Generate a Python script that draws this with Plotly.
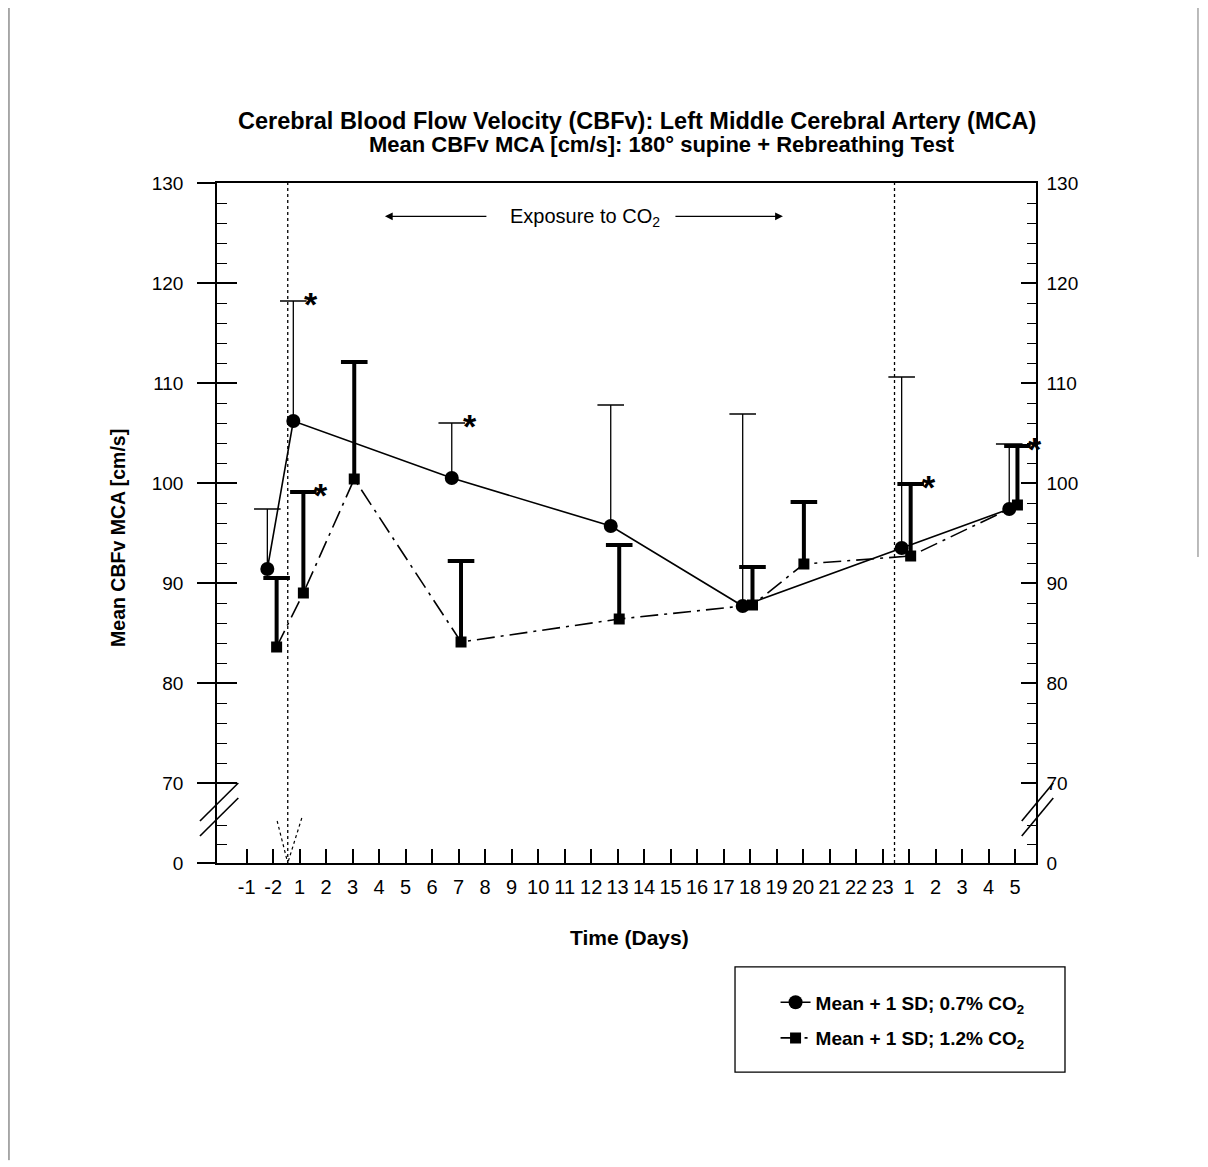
import plotly.graph_objects as go

# ---------------- data ----------------
x_labels = ["-1", "-2", "1", "2", "3", "4", "5", "6", "7", "8", "9", "10", "11", "12",
            "13", "14", "15", "16", "17", "18", "19", "20", "21", "22", "23",
            "1", "2", "3", "4", "5"]
x_tick_pos = list(range(len(x_labels)))

# 0.7% CO2 (circles): position on the day axis, mean, +1 SD
circ_x = [0.78, 1.76, 7.74, 13.74, 18.72, 24.72, 28.78]
circ_mean = [91.4, 106.2, 100.5, 95.7, 87.7, 93.5, 97.4]
circ_sd = [6.0, 12.0, 5.5, 12.1, 19.2, 17.1, 6.5]
circ_star = [False, True, True, False, False, False, False]

# 1.2% CO2 (squares)
sq_x = [1.13, 2.14, 4.06, 8.09, 14.06, 19.09, 21.03, 25.06, 29.09]
sq_mean = [83.6, 89.0, 100.4, 84.1, 86.4, 87.8, 91.9, 92.7, 97.8]
sq_sd = [6.9, 10.1, 11.7, 8.1, 7.4, 3.8, 6.2, 7.2, 5.9]
sq_star = [False, True, False, False, False, False, False, True, True]

# broken y axis: bottom value stands for "0"
y_tick_vals = [62, 70, 80, 90, 100, 110, 120, 130]
y_tick_text = ["0", "70", "80", "90", "100", "110", "120", "130"]
y_minor_vals = [63.9, 65.8, 72, 74, 76, 78, 82, 84, 86, 88, 92, 94, 96, 98,
                102, 104, 106, 108, 112, 114, 116, 118, 122, 124, 126, 128]

period_marks = [1.55, 24.45]

FONT = "Liberation Sans, Arial, sans-serif"

circ_top = [m + s for m, s in zip(circ_mean, circ_sd)]
sq_top = [m + s for m, s in zip(sq_mean, sq_sd)]

fig = go.Figure()

fig.add_trace(go.Scatter(
    x=circ_x, y=circ_mean, mode="lines+markers",
    name="<b>Mean + 1 SD; 0.7% CO<sub>2</sub></b>", legendgroup="a",
    line=dict(color="black", width=1.6),
    marker=dict(symbol="circle", size=14, color="black"),
    error_y=dict(type="data", symmetric=False, array=circ_sd,
                 arrayminus=[0] * len(circ_sd), width=0, thickness=1.3, color="black"),
    hoverinfo="skip"))
fig.add_trace(go.Scatter(
    x=circ_x, y=circ_top, mode="markers", showlegend=False, hoverinfo="skip",
    marker=dict(symbol="line-ew", size=19, color="black", line=dict(width=1.5, color="black"))))

fig.add_trace(go.Scatter(
    x=sq_x, y=sq_mean, mode="lines+markers",
    name="<b>Mean + 1 SD; 1.2% CO<sub>2</sub></b>", legendgroup="b",
    line=dict(color="black", width=1.6, dash="18px,6px,3px,6px"),
    marker=dict(symbol="square", size=11, color="black"),
    error_y=dict(type="data", symmetric=False, array=sq_sd,
                 arrayminus=[0] * len(sq_sd), width=0, thickness=4, color="black"),
    hoverinfo="skip"))
fig.add_trace(go.Scatter(
    x=sq_x, y=sq_top, mode="markers", showlegend=False, hoverinfo="skip",
    marker=dict(symbol="line-ew", size=19, color="black", line=dict(width=4, color="black"))))

# dummy traces to bind the overlay axes
fig.add_trace(go.Scatter(x=circ_x[:1], y=circ_mean[:1], yaxis="y2", mode="markers",
                         marker=dict(opacity=0), showlegend=False, hoverinfo="skip"))
fig.add_trace(go.Scatter(x=circ_x[:1], y=circ_mean[:1], yaxis="y3", mode="markers",
                         marker=dict(opacity=0), showlegend=False, hoverinfo="skip"))

annotations = []
for xs, tops, stars in ((circ_x, circ_top, circ_star), (sq_x, sq_top, sq_star)):
    for xv, tv, st in zip(xs, tops, stars):
        if st:
            annotations.append(dict(x=xv, y=tv, xref="x", yref="y", text="<b>*</b>",
                                    showarrow=False, xshift=18, yshift=-3,
                                    xanchor="center", yanchor="middle",
                                    font=dict(family=FONT, size=34, color="black")))

# titles and labels
annotations += [
    dict(x=0.5134, y=1.091, xref="paper", yref="paper",
         text="<b>Cerebral Blood Flow Velocity (CBFv): Left Middle Cerebral Artery (MCA)</b>",
         showarrow=False, xanchor="center", yanchor="middle",
         font=dict(family=FONT, size=23.5, color="black")),
    dict(x=0.5439, y=1.056, xref="paper", yref="paper",
         text="<b>Mean CBFv MCA [cm/s]: 180° supine + Rebreathing Test</b>",
         showarrow=False, xanchor="center", yanchor="middle",
         font=dict(family=FONT, size=22, color="black")),
    dict(x=-0.1209, y=0.478, xref="paper", yref="paper", textangle=-90,
         xanchor="center", yanchor="middle",
         text="<b>Mean CBFv MCA [cm/s]</b>", showarrow=False,
         font=dict(family=FONT, size=19.5, color="black")),
    dict(x=0.504, y=-0.109, xref="paper", yref="paper",
         xanchor="center", yanchor="middle",
         text="<b>Time (Days)</b>", showarrow=False,
         font=dict(family=FONT, size=21, color="black")),
    dict(x=0.449, y=0.949, xref="paper", yref="paper",
         xanchor="center", yanchor="middle",
         text="Exposure to CO<sub>2</sub>", showarrow=False,
         font=dict(family=FONT, size=20, color="black")),
    dict(x=0.205, y=0.951, xref="paper", yref="paper", text="", showarrow=True,
         ax=103, ay=0, arrowhead=2, arrowsize=1.2, arrowwidth=1.3, arrowcolor="black"),
    dict(x=0.691, y=0.951, xref="paper", yref="paper", text="", showarrow=True,
         ax=-109, ay=0, arrowhead=2, arrowsize=1.2, arrowwidth=1.3, arrowcolor="black"),
]

shapes = []
for xm in period_marks:
    shapes.append(dict(type="line", xref="x", yref="paper", x0=xm, x1=xm, y0=0, y1=1,
                       line=dict(color="black", width=1.3, dash="dot")))
# dotted arrowhead at the bottom of the first period marker
shapes += [
    dict(type="line", xref="x", yref="y", x0=1.15, y0=66.2, x1=period_marks[0], y1=62,
         line=dict(color="black", width=1.2, dash="dot")),
    dict(type="line", xref="x", yref="y", x0=2.08, y0=66.5, x1=period_marks[0], y1=62,
         line=dict(color="black", width=1.2, dash="dot")),
]
# axis-break marks
for x0, x1 in ((-0.0208, 0.026), (0.9826, 1.0211)):
    shapes += [
        dict(type="line", xref="paper", yref="y", x0=x0, y0=66.2, x1=x1, y1=70.0,
             line=dict(color="black", width=1.6)),
        dict(type="line", xref="paper", yref="y", x0=x0, y0=64.7, x1=x1, y1=68.5,
             line=dict(color="black", width=1.6)),
    ]
# legend box
shapes.append(dict(type="rect", xref="paper", yref="paper", x0=0.6325, x1=1.0354,
                   y0=-0.3074, y1=-0.1529, line=dict(color="black", width=1.3)))
# page frame (scan border)
shapes += [
    dict(type="line", xref="paper", yref="paper", x0=-0.254, x1=-0.254, y0=1.27, y1=-0.437,
         line=dict(color="#555", width=1)),
    dict(type="line", xref="paper", yref="paper", x0=1.1978, x1=1.1978, y0=1.27, y1=0.45,
         line=dict(color="#777", width=1)),
]

tickfont_y = dict(family=FONT, size=19, color="black")
tickfont_x = dict(family=FONT, size=20, color="black")

# the page adds an 8px body margin, so the figure is 8px smaller
fig.update_layout(
    width=1200, height=1159,
    margin=dict(l=209, r=172, t=175, b=304, autoexpand=False),
    paper_bgcolor="white", plot_bgcolor="white",
    showlegend=True,
    legend=dict(x=0.682, y=-0.177, xanchor="left", yanchor="top",
                bgcolor="rgba(0,0,0,0)", borderwidth=0, traceorder="grouped",
                tracegroupgap=8,
                font=dict(family=FONT, size=19, color="black")),
    xaxis=dict(range=[-1.12, 29.79], tickmode="array", tickvals=x_tick_pos, ticktext=x_labels,
               tickangle=0, ticks="inside", ticklen=14, tickwidth=1.5, tickcolor="black",
               ticklabelstandoff=5,
               showline=True, linecolor="black", linewidth=1.5, mirror=True,
               showgrid=False, zeroline=False, tickfont=tickfont_x, automargin=False),
    yaxis=dict(range=[62, 130], tickmode="array", tickvals=y_tick_vals, ticktext=y_tick_text,
               ticks="outside", ticklen=18, tickwidth=1.5, tickcolor="black",
               ticklabelstandoff=10,
               minor=dict(tickmode="array", tickvals=y_minor_vals, ticks="inside",
                          ticklen=10, tickwidth=1.3, tickcolor="black", showgrid=False),
               showline=True, linecolor="black", linewidth=1.5,
               showgrid=False, zeroline=False, tickfont=tickfont_y, automargin=False),
    yaxis2=dict(range=[62, 130], overlaying="y", side="right", anchor="x",
                tickmode="array", tickvals=y_tick_vals, ticktext=y_tick_text,
                ticks="inside", ticklen=15, tickwidth=1.5, tickcolor="black",
                ticklabelstandoff=5,
                minor=dict(tickmode="array", tickvals=y_minor_vals, ticks="inside",
                           ticklen=9, tickwidth=1.3, tickcolor="black", showgrid=False),
                showline=True, linecolor="black", linewidth=1.5,
                showgrid=False, zeroline=False, tickfont=tickfont_y, automargin=False),
    yaxis3=dict(range=[62, 130], overlaying="y", side="left", anchor="x",
                tickmode="array", tickvals=y_tick_vals[1:],
                ticks="inside", ticklen=20, tickwidth=1.5, tickcolor="black",
                showticklabels=False, showline=False, showgrid=False, zeroline=False),
    annotations=annotations,
    shapes=shapes,
)

fig.write_html("out.html")
